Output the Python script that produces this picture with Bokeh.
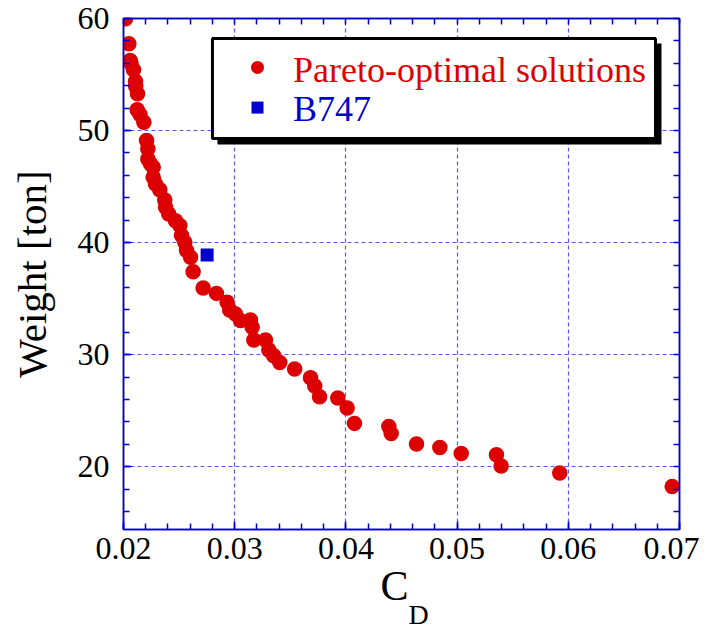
import numpy as np
from bokeh.plotting import figure
from bokeh.models import (LinearAxis, SingleIntervalTicker, FixedTicker, PrintfTickFormatter,
                          BoxAnnotation, Label, Range1d, Title)
from bokeh.embed import file_html
from bokeh.resources import INLINE

# Pareto-optimal solutions (drag coefficient, weight in ton)
cd_pareto = [0.02018, 0.02048, 0.0206, 0.02067, 0.0209, 0.02108, 0.0211, 0.02126,
             0.02123, 0.02148, 0.02183, 0.02207, 0.02219, 0.02219, 0.02243, 0.02267,
             0.02267, 0.02288, 0.02326, 0.02371, 0.02378, 0.02407, 0.02468, 0.02506,
             0.02522, 0.02551, 0.02567, 0.02603, 0.02626, 0.02716, 0.02836, 0.02932,
             0.02955, 0.03007, 0.03052, 0.03142, 0.03157, 0.03172, 0.03277, 0.03307,
             0.03351, 0.03405, 0.03539, 0.03682, 0.0372, 0.03763, 0.03927, 0.04011,
             0.04077, 0.04386, 0.04407, 0.04635, 0.04845, 0.05037, 0.05354, 0.05396,
             0.05923, 0.06934]
w_pareto = [59.97, 57.74, 56.25, 55.98, 55.42, 54.40, 53.93, 53.28,
            51.85, 51.43, 50.74, 49.11, 48.37, 47.47, 47.03, 46.72,
            45.83, 45.24, 44.71, 43.81, 43.15, 42.56, 41.96, 41.52,
            40.63, 40.03, 39.29, 38.69, 37.41, 35.96, 35.47, 34.67,
            33.99, 33.63, 33.04, 33.10, 32.44, 31.31, 31.31, 30.42,
            29.91, 29.31, 28.72, 27.95, 27.21, 26.25, 26.13, 25.24,
            23.87, 23.60, 22.97, 22.03, 21.72, 21.19, 21.07, 20.06,
            19.44, 18.24]
cd_b747 = [0.02752]
w_b747 = [38.90]

legend_labels = ["Pareto-optimal solutions", "B747"]
x_title = "C"
x_title_sub = "D"
y_title = "Weight [ton]"

X_MIN, X_MAX = 0.02, 0.07
Y_MIN, Y_MAX = 14.4, 60

FONT = "Liberation Serif"
BLUE_AX = "#0000cc"
GRID = "#3c3ce6"
RED = "#dd0000"
BLUE = "#0000cc"

p = figure(frame_width=556, frame_height=511, output_backend="svg", toolbar_location=None,
           x_range=Range1d(X_MIN, X_MAX), y_range=Range1d(Y_MIN, Y_MAX),
           min_border_left=123, min_border_right=20, min_border_top=18,
           min_border_bottom=100)
p.outline_line_color = BLUE_AX
p.outline_line_width = 1.5
p.background_fill_color = "white"
p.border_fill_color = "white"

xt = SingleIntervalTicker(interval=0.01, num_minor_ticks=5)
yt = SingleIntervalTicker(interval=10, num_minor_ticks=5)

def style_axis(ax):
    ax.axis_line_color = BLUE_AX
    ax.axis_line_width = 1.5
    ax.major_tick_line_color = BLUE_AX
    ax.minor_tick_line_color = BLUE_AX
    ax.major_tick_line_width = 1.5
    ax.minor_tick_line_width = 1.5
    ax.major_tick_in = 8
    ax.major_tick_out = 0
    ax.minor_tick_in = 6
    ax.minor_tick_out = 0
    ax.major_label_text_font = FONT
    ax.major_label_text_font_size = "32px"
    ax.major_label_text_color = "black"

p.xaxis.ticker = xt
p.yaxis.ticker = yt
p.xaxis.formatter = PrintfTickFormatter(format="%.2f")
p.yaxis.formatter = PrintfTickFormatter(format="%d")
style_axis(p.xaxis[0])
style_axis(p.yaxis[0])
p.xaxis.major_label_standoff = 8
p.yaxis.major_label_standoff = 14
p.yaxis.axis_label = y_title
p.yaxis.axis_label_text_font = FONT
p.yaxis.axis_label_text_font_size = "41px"
p.yaxis.axis_label_text_font_style = "normal"
p.yaxis.axis_label_text_color = "black"
p.yaxis.axis_label_standoff = 20

# tick-only axes on top and right (no labels: all ticks given as minor ticks)
x_ticks_all = list(np.round(np.arange(X_MIN, X_MAX + 1e-9, 0.002), 4))
y_ticks_all = list(np.arange(16, Y_MAX + 1e-9, 2.0))
top_ax = LinearAxis(ticker=FixedTicker(ticks=[], minor_ticks=x_ticks_all))
right_ax = LinearAxis(ticker=FixedTicker(ticks=[], minor_ticks=y_ticks_all))
for ax in (top_ax, right_ax):
    ax.axis_line_color = BLUE_AX
    ax.axis_line_width = 1.5
    ax.minor_tick_line_color = BLUE_AX
    ax.minor_tick_line_width = 1.5
    ax.minor_tick_in = 6
    ax.minor_tick_out = 0
    ax.major_tick_out = 0
    ax.major_tick_in = 0
    ax.major_label_standoff = 0
    ax.axis_label_standoff = 0
p.add_layout(top_ax, "above")
p.add_layout(right_ax, "right")

p.xgrid.ticker = xt
p.ygrid.ticker = yt
for g in (p.xgrid[0], p.ygrid[0]):
    g.grid_line_color = GRID
    g.grid_line_dash = "4 3"
    g.grid_line_width = 1.2
    g.grid_line_alpha = 0.85

p.scatter(cd_pareto, w_pareto, marker="circle", size=15.5, fill_color=RED,
          line_color=None)
p.scatter(cd_b747, w_b747, marker="square", size=13, fill_color=BLUE,
          line_color=None)

# legend (manual, for per-item text colours)
shadow = BoxAnnotation(left=0.02845, right=0.06838, top=57.77, bottom=48.75,
                       fill_color="black", fill_alpha=1.0, line_color=None)
box = BoxAnnotation(left=0.028, right=0.06784, top=58.21, bottom=49.29,
                    fill_color="white", fill_alpha=1.0, line_color="black",
                    line_width=3, line_alpha=1.0)
p.add_layout(shadow)
p.add_layout(box)
p.scatter([0.03205], [55.63], marker="circle", size=13, fill_color=RED,
          line_color=None, level="overlay")
p.scatter([0.03205], [52.05], marker="square", size=12, fill_color=BLUE,
          line_color=None, level="overlay")
p.add_layout(Label(x=0.03525, y=55.40, text=legend_labels[0], text_font=FONT,
                   text_font_size="36px", text_color=RED, text_baseline="alphabetic",
                   level="overlay"))
p.add_layout(Label(x=0.03525, y=51.95, text=legend_labels[1], text_font=FONT,
                   text_font_size="36px", text_color=BLUE, text_baseline="alphabetic",
                   level="overlay"))

# x-axis title "C" with subscript "D", as titles below the axis
t_c = Title(text=x_title, align="left", offset=257, text_font=FONT,
            text_font_size="42px", text_font_style="normal", text_color="black")
t_d = Title(text=x_title_sub, align="left", offset=285, text_font=FONT,
            text_font_size="28px", text_font_style="normal", text_color="black")
try:
    t_c.standoff = -1
    t_d.standoff = -24
except Exception:
    t_c.standoff = 0
    t_d.standoff = 0
p.add_layout(t_c, "below")
p.add_layout(t_d, "below")

open("out.html", "w").write(file_html(p, INLINE))
